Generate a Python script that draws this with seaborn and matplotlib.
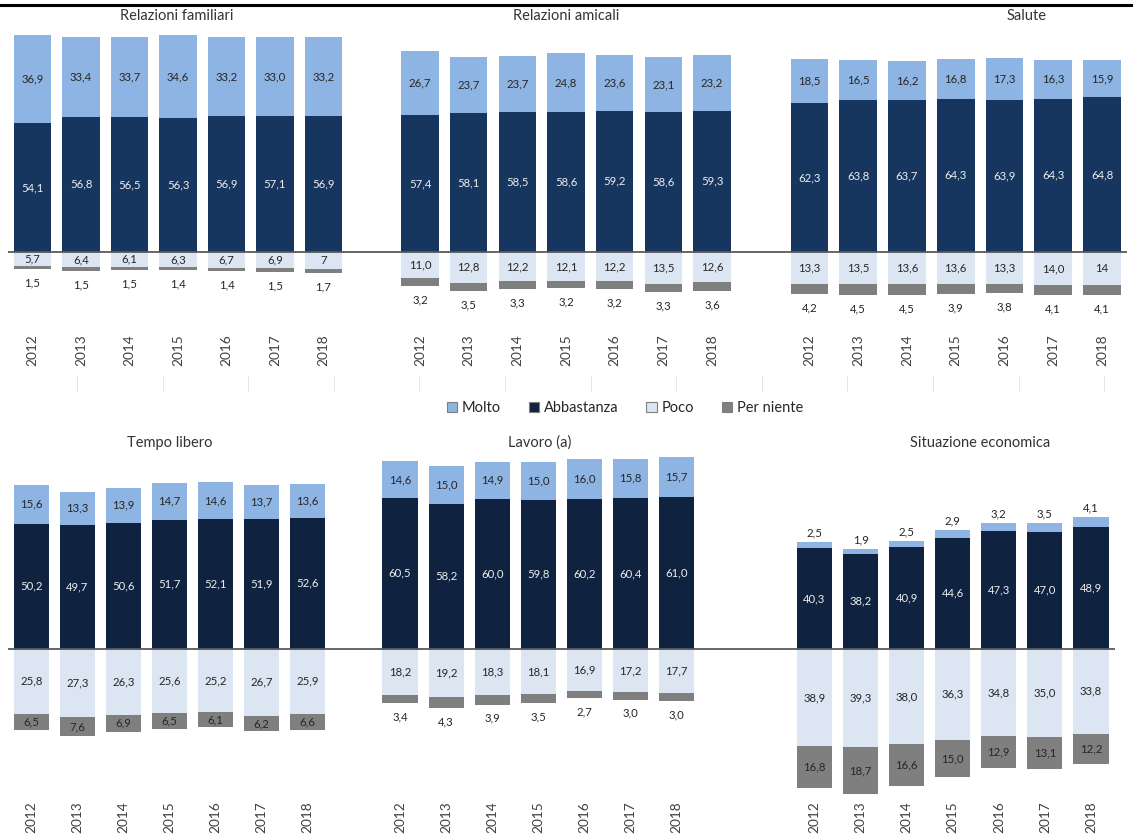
import matplotlib
matplotlib.use("Agg")
import numpy as np
import pandas as pd
import matplotlib.pyplot as plt
from matplotlib.patches import Patch
from matplotlib.lines import Line2D
import seaborn as sns

# ---------------------------------------------------------------- data
YEARS = ["2012", "2013", "2014", "2015", "2016", "2017", "2018"]
CATEGORIES = ["Molto", "Abbastanza", "Poco", "Per niente"]

FAM_MOLTO = [36.9, 33.4, 33.7, 34.6, 33.2, 33.0, 33.2]
FAM_ABBASTANZA = [54.1, 56.8, 56.5, 56.3, 56.9, 57.1, 56.9]
FAM_POCO = [5.7, 6.4, 6.1, 6.3, 6.7, 6.9, 7]
FAM_PER_NIENTE = [1.5, 1.5, 1.5, 1.4, 1.4, 1.5, 1.7]

AMI_MOLTO = [26.7, 23.7, 23.7, 24.8, 23.6, 23.1, 23.2]
AMI_ABBASTANZA = [57.4, 58.1, 58.5, 58.6, 59.2, 58.6, 59.3]
AMI_POCO = [11.0, 12.8, 12.2, 12.1, 12.2, 13.5, 12.6]
AMI_PER_NIENTE = [3.2, 3.5, 3.3, 3.2, 3.2, 3.3, 3.6]

SAL_MOLTO = [18.5, 16.5, 16.2, 16.8, 17.3, 16.3, 15.9]
SAL_ABBASTANZA = [62.3, 63.8, 63.7, 64.3, 63.9, 64.3, 64.8]
SAL_POCO = [13.3, 13.5, 13.6, 13.6, 13.3, 14.0, 14]
SAL_PER_NIENTE = [4.2, 4.5, 4.5, 3.9, 3.8, 4.1, 4.1]

TEM_MOLTO = [15.6, 13.3, 13.9, 14.7, 14.6, 13.7, 13.6]
TEM_ABBASTANZA = [50.2, 49.7, 50.6, 51.7, 52.1, 51.9, 52.6]
TEM_POCO = [25.8, 27.3, 26.3, 25.6, 25.2, 26.7, 25.9]
TEM_PER_NIENTE = [6.5, 7.6, 6.9, 6.5, 6.1, 6.2, 6.6]

LAV_MOLTO = [14.6, 15.0, 14.9, 15.0, 16.0, 15.8, 15.7]
LAV_ABBASTANZA = [60.5, 58.2, 60.0, 59.8, 60.2, 60.4, 61.0]
LAV_POCO = [18.2, 19.2, 18.3, 18.1, 16.9, 17.2, 17.7]
LAV_PER_NIENTE = [3.4, 4.3, 3.9, 3.5, 2.7, 3.0, 3.0]

ECO_MOLTO = [2.5, 1.9, 2.5, 2.9, 3.2, 3.5, 4.1]
ECO_ABBASTANZA = [40.3, 38.2, 40.9, 44.6, 47.3, 47.0, 48.9]
ECO_POCO = [38.9, 39.3, 38.0, 36.3, 34.8, 35.0, 33.8]
ECO_PER_NIENTE = [16.8, 18.7, 16.6, 15.0, 12.9, 13.1, 12.2]

# ---------------------------------------------------------------- style
C_MOLTO = "#8EB4E3"
C_ABB_TOP = "#17365F"
C_ABB_BOTTOM = "#0F2340"
C_POCO = "#DCE6F2"
C_PERN = "#7F7F7F"
TXT = "#262626"

W, H = 1133, 836
sns.set_theme(style="white")
plt.rcParams["font.family"] = ["Lato", "DejaVu Sans"]

fig = plt.figure(figsize=(W / 100, H / 100), dpi=100)


def px_axes(x0, x1, y0, y1):
    """Axes placed by pixel edges (origin top-left)."""
    return fig.add_axes([x0 / W, 1 - y1 / H, (x1 - x0) / W, (y1 - y0) / H])


def fmt(v):
    return str(v) if isinstance(v, int) else f"{v:.1f}".replace(".", ",")


def draw_panel(title, molto, abb, poco, pern, *, box, centers, base, scale,
               width, dark, title_xy, pern_pos="inside", molto_pos="inside"):
    x0, x1, y0, y1 = box
    ax = px_axes(x0, x1, y0, y1)

    df = pd.DataFrame({"anno": YEARS, "Molto": molto, "Abbastanza": abb,
                       "Poco": poco, "Per niente": pern})
    df["pos_tot"] = df["Abbastanza"] + df["Molto"]
    df["neg_tot"] = -(df["Poco"] + df["Per niente"])
    df["poco_neg"] = -df["Poco"]

    kw = dict(data=df, x="anno", ax=ax, width=width, saturation=1,
              errorbar=None, linewidth=0)
    # stacked segments: outer total first, inner segment drawn over it
    sns.barplot(y="pos_tot", color=C_MOLTO, **kw)
    sns.barplot(y="Abbastanza", color=dark, **kw)
    sns.barplot(y="neg_tot", color=C_PERN, **kw)
    sns.barplot(y="poco_neg", color=C_POCO, **kw)

    ax.axhline(0, color="#595959", lw=1.3, zorder=5)

    # value labels
    fs = 8.2
    for i in range(len(YEARS)):
        m, a, p, n = molto[i], abb[i], poco[i], pern[i]
        if molto_pos == "above":
            ax.annotate(fmt(m), (i, a + m), xytext=(0, 2.5),
                        textcoords="offset points", ha="center", va="bottom",
                        fontsize=fs, color=TXT)
        else:
            ax.text(i, a + m / 2, fmt(m), ha="center", va="center",
                    fontsize=fs, color=TXT)
        ax.text(i, a / 2, fmt(a), ha="center", va="center", fontsize=fs,
                color="#EDEDED")
        ax.text(i, -p / 2, fmt(p), ha="center", va="center", fontsize=fs,
                color=TXT)
        if pern_pos == "below":
            ax.annotate(fmt(n), (i, -(p + n)), xytext=(0, -6),
                        textcoords="offset points", ha="center", va="top",
                        fontsize=fs, color=TXT)
        else:
            ax.text(i, -(p + n / 2), fmt(n), ha="center", va="center",
                    fontsize=fs, color=TXT)

    c0, c1 = centers
    step = (c1 - c0) / (len(YEARS) - 1)
    ax.set_xlim((x0 - c0) / step, (x1 - c0) / step)
    ax.set_ylim(-(y1 - base) / scale, (base - y0) / scale)

    ax.set_xticks(range(len(YEARS)))
    ax.set_xticklabels(YEARS, rotation=90, fontsize=9.8, color="#404040")
    ax.tick_params(axis="x", length=0, pad=3)
    ax.set_yticks([])
    ax.set_xlabel("")
    ax.set_ylabel("")
    for s in ax.spines.values():
        s.set_visible(False)
    ax.patch.set_alpha(0)

    fig.text(title_xy[0] / W, 1 - title_xy[1] / H, title, ha="center",
             va="center", fontsize=10.5, color="#333333")
    return ax


# ---------------------------------------------------------------- top row
TOP = dict(base=252, scale=2.385, width=0.77, dark=C_ABB_TOP,
           pern_pos="below")
draw_panel("Relazioni familiari", FAM_MOLTO, FAM_ABBASTANZA, FAM_POCO,
           FAM_PER_NIENTE, box=(8, 380, 25, 330), centers=(32.5, 323.5),
           title_xy=(177, 16), **TOP)
draw_panel("Relazioni amicali", AMI_MOLTO, AMI_ABBASTANZA, AMI_POCO,
           AMI_PER_NIENTE, box=(380, 765, 25, 330), centers=(420, 712),
           title_xy=(566, 16), **TOP)
draw_panel("Salute", SAL_MOLTO, SAL_ABBASTANZA, SAL_POCO, SAL_PER_NIENTE,
           box=(765, 1127, 25, 330), centers=(809.5, 1102),
           title_xy=(1027, 16), **TOP)

# ---------------------------------------------------------------- bottom row
BOT = dict(base=649, scale=2.5, width=0.76, dark=C_ABB_BOTTOM)
draw_panel("Tempo libero", TEM_MOLTO, TEM_ABBASTANZA, TEM_POCO,
           TEM_PER_NIENTE, box=(8, 378, 440, 797), centers=(31.5, 307.5),
           title_xy=(170, 443), **BOT)
draw_panel("Lavoro (a)", LAV_MOLTO, LAV_ABBASTANZA, LAV_POCO,
           LAV_PER_NIENTE, box=(378, 745, 440, 797), centers=(400, 676.5),
           title_xy=(540, 443), pern_pos="below", **BOT)
draw_panel("Situazione economica", ECO_MOLTO, ECO_ABBASTANZA, ECO_POCO,
           ECO_PER_NIENTE, box=(745, 1115, 440, 797), centers=(814.5, 1091),
           title_xy=(980, 443), molto_pos="above", **BOT)

# ---------------------------------------------------------------- legend
handles = [Patch(facecolor=c, edgecolor="#7F7F7F", linewidth=0.8)
           for c in (C_MOLTO, C_ABB_BOTTOM, C_POCO, C_PERN)]
fig.legend(handles, CATEGORIES, loc="center",
           bbox_to_anchor=(625 / W, 1 - 408 / H), ncol=4, frameon=False,
           fontsize=10.5, handlelength=0.7, handleheight=0.7,
           handletextpad=0.35, columnspacing=1.9, labelcolor="#262626")

# faint separator ticks between the two rows
sep = px_axes(0, W, 379, 391)
sep.set_xlim(0, W)
sep.set_ylim(0, 1)
sep.set_xticks(77 + 85.6 * np.arange(13))
sep.tick_params(axis="x", direction="in", length=11, width=0.6,
                color="#E2E2E2", labelbottom=False, bottom=True)
sep.set_yticks([])
for s in sep.spines.values():
    s.set_visible(False)
sep.patch.set_alpha(0)

# rule at the top of the page
fig.add_artist(Line2D([0, 1], [1 - 5 / H, 1 - 5 / H],
                      transform=fig.transFigure, color="black", lw=2.2))

fig.savefig("out.png", dpi=100)
